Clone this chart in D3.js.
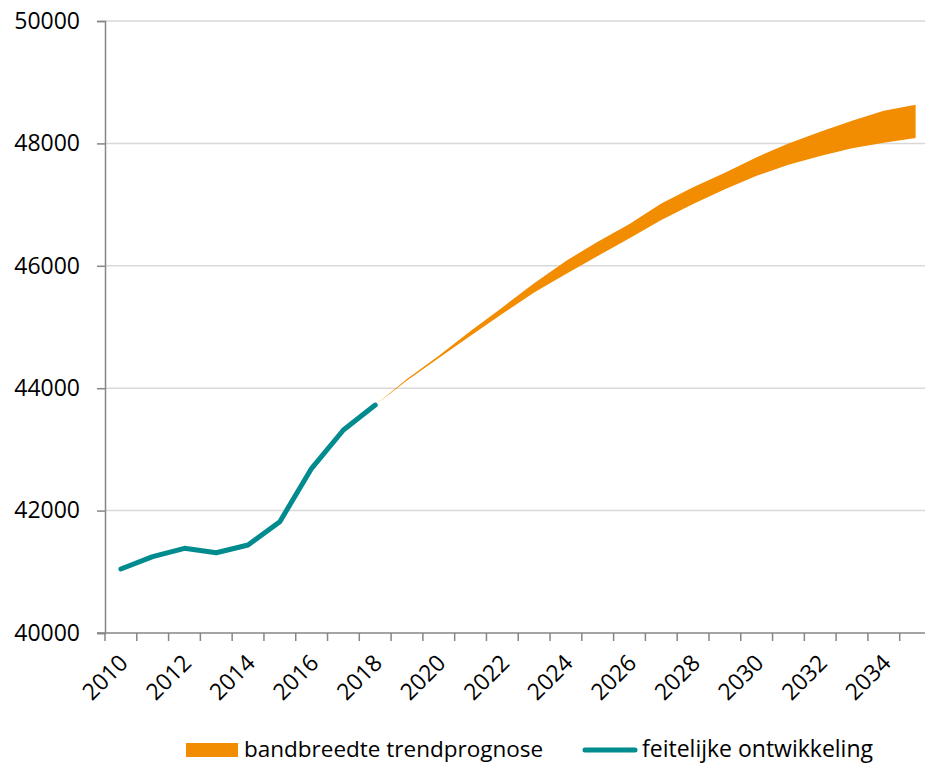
<!DOCTYPE html>
<html>
<head>
<meta charset="utf-8">
<script src="https://cdn.jsdelivr.net/npm/d3@7"></script>
<style>
  body { margin: 0; background: #fff; }
  text { font-family: "Open Sans", sans-serif; fill: #000; }
</style>
</head>
<body>
<div id="chart"></div>
<script>
// Chart data
const years = [2010, 2011, 2012, 2013, 2014, 2015, 2016, 2017, 2018, 2019, 2020, 2021, 2022,
               2023, 2024, 2025, 2026, 2027, 2028, 2029, 2030, 2031, 2032, 2033, 2034, 2035];
const actualYears = [2010, 2011, 2012, 2013, 2014, 2015, 2016, 2017, 2018];
const actualValues = [41046, 41247, 41384, 41312, 41438, 41819, 42691, 43317, 43725];
const bandYears = [2018, 2019, 2020, 2021, 2022, 2023, 2024, 2025, 2026, 2027, 2028,
                   2029, 2030, 2031, 2032, 2033, 2034, 2035];
const bandLow = [43725, 44125, 44495, 44855, 45215, 45565, 45865, 46160, 46450, 46750, 47010,
                 47250, 47470, 47650, 47795, 47920, 48010, 48090];
const bandHigh = [43725, 44150, 44530, 44935, 45320, 45715, 46080, 46395, 46685, 47020, 47285,
                  47520, 47775, 48000, 48190, 48370, 48535, 48630];
const yTicks = [40000, 42000, 44000, 46000, 48000, 50000];
const xLabelYears = [2010, 2012, 2014, 2016, 2018, 2020, 2022, 2024, 2026, 2028, 2030, 2032, 2034];
const legendItems = ['bandbreedte trendprognose', 'feitelijke ontwikkeling'];

const width = 925;
const height = 766;
const margin = { top: 21, left: 105, bottom: 133 };

const svg = d3.select('#chart')
    .append('svg')
    .attr('width', width)
    .attr('height', height);

// Scales (plot area runs a little past the right edge of the picture)
const x = d3.scaleBand()
    .domain(years)
    .range([margin.left, 931.5])
    .padding(0);

const y = d3.scaleLinear()
    .domain([40000, 50000])
    .range([height - margin.bottom, margin.top]);

const cx = d => x(d) + x.bandwidth() / 2;

// Gridlines
svg.append('g')
    .selectAll('line')
    .data(yTicks.slice(1))
    .enter()
    .append('line')
    .attr('x1', margin.left)
    .attr('x2', width)
    .attr('y1', d => y(d))
    .attr('y2', d => y(d))
    .attr('stroke', '#d9d9d9')
    .attr('stroke-width', 1.5);

// Y axis
const yAxis = svg.append('g')
    .attr('transform', `translate(${margin.left},0)`)
    .call(d3.axisLeft(y).tickValues(yTicks).tickSize(8).tickPadding(17).tickFormat(d3.format('d')));
yAxis.selectAll('.domain, line').attr('stroke', '#868686').attr('stroke-width', 1.5);
yAxis.selectAll('text')
    .attr('font-size', 23)
    .attr('font-family', '"Open Sans", sans-serif');

// X axis: ticks on band edges
const xAxis = svg.append('g');
xAxis.append('line')
    .attr('x1', margin.left - 8)
    .attr('x2', width)
    .attr('y1', y(40000))
    .attr('y2', y(40000))
    .attr('stroke', '#868686')
    .attr('stroke-width', 1.5);
xAxis.selectAll('.xtick')
    .data(years)
    .enter()
    .append('line')
    .attr('class', 'xtick')
    .attr('x1', d => x(d))
    .attr('x2', d => x(d))
    .attr('y1', y(40000))
    .attr('y2', y(40000) + 8)
    .attr('stroke', '#868686')
    .attr('stroke-width', 1.5);
xAxis.selectAll('text')
    .data(xLabelYears)
    .enter()
    .append('text')
    .attr('transform', d => `translate(${cx(d) - 3},${y(40000) + 20}) rotate(-45)`)
    .attr('text-anchor', 'end')
    .attr('dy', '0.7em')
    .attr('font-size', 23)
    .text(d => d);

// Forecast band
const bandData = bandYears.map((yr, i) => ({ yr, lo: bandLow[i], hi: bandHigh[i] }));
const area = d3.area()
    .x(d => cx(d.yr))
    .y0(d => y(d.lo))
    .y1(d => y(d.hi));

svg.append('path')
    .datum(bandData)
    .attr('d', area)
    .attr('fill', '#f28c00');

// Actual development
const line = d3.line()
    .x(d => cx(d.yr))
    .y(d => y(d.v));

svg.append('path')
    .datum(actualYears.map((yr, i) => ({ yr, v: actualValues[i] })))
    .attr('d', line)
    .attr('fill', 'none')
    .attr('stroke', '#008b8e')
    .attr('stroke-width', 5)
    .attr('stroke-linecap', 'round')
    .attr('stroke-linejoin', 'round');

// Legend
const legend = svg.append('g').attr('class', 'legend');
legend.append('rect')
    .attr('x', 186)
    .attr('y', 743)
    .attr('width', 52)
    .attr('height', 14)
    .attr('fill', '#f28c00');
legend.append('text')
    .attr('x', 244)
    .attr('y', 757)
    .attr('font-size', 22.5)
    .text(legendItems[0]);
legend.append('line')
    .attr('x1', 585)
    .attr('x2', 635)
    .attr('y1', 750)
    .attr('y2', 750)
    .attr('stroke', '#008b8e')
    .attr('stroke-width', 5)
    .attr('stroke-linecap', 'round');
legend.append('text')
    .attr('x', 642)
    .attr('y', 757)
    .attr('font-size', 23)
    .text(legendItems[1]);
</script>
</body>
</html>
